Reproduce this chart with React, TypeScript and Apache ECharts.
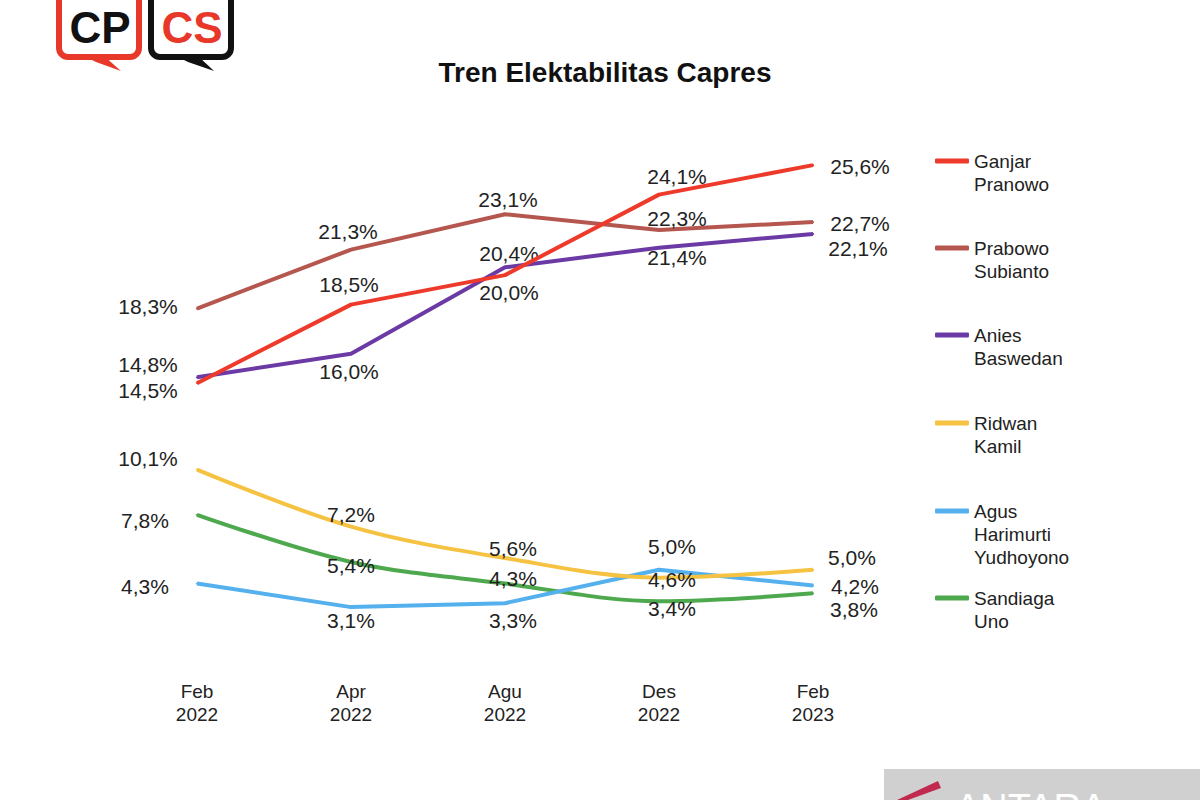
import React, { useEffect, useRef } from "react";
import * as echarts from "echarts";

const categories = ["Feb\n2022", "Apr\n2022", "Agu\n2022", "Des\n2022", "Feb\n2023"];
const seriesNames = ["Ganjar\nPranowo", "Prabowo\nSubianto", "Anies\nBaswedan", "Ridwan\nKamil", "Agus\nHarimurti\nYudhoyono", "Sandiaga\nUno"];
const ganjar = [14.5, 18.5, 20.0, 24.1, 25.6];
const prabowo = [18.3, 21.3, 23.1, 22.3, 22.7];
const anies = [14.8, 16.0, 20.4, 21.4, 22.1];
const ridwan = [10.1, 7.2, 5.6, 4.6, 5.0];
const ahy = [4.3, 3.1, 3.3, 5.0, 4.2];
const sandiaga = [7.8, 5.4, 4.3, 3.4, 3.8];
const seriesValues = [ganjar, prabowo, anies, ridwan, ahy, sandiaga];

const colors = ["#EE3A2B", "#B5574F", "#6C3AA5", "#F5C242", "#55B0EE", "#4EA94E"];
const smoothness = [0, 0, 0, 0.35, 0, 0.35];
const labelOffsets = [
  [[-49, 7], [-2, -20], [4, 17], [18, -18], [47, 1]],
  [[-49, -2], [-3, -18], [3, -15], [18, -11], [47, 1]],
  [[-49, -13], [-2, 18], [4, -14], [18, 10], [45, 15]],
  [[-49, -11], [0, -12], [8, -10], [13, 2], [39, -12]],
  [[-52, 3], [0, 13], [8, 17], [13, -23], [42, 1]],
  [[-52, 6], [0, 4], [8, -5], [13, 7], [41, 16]],
];
const legendCenters = [161, 248, 335, 423, 511, 598];

const FONT = "'Liberation Sans', Arial, sans-serif";

export default function App() {
  const ref = useRef<HTMLDivElement>(null);
  useEffect(() => {
    document.body.style.margin = "0";
    const chart = echarts.init(ref.current!, null, { renderer: "svg" });
    const lineH = 23;
    const legends = seriesNames.map((name, i) => {
      const lines = name.split("\n").length;
      const total = 2 * lines - 1;
      const boxH = total * lineH;
      return {
        show: true,
        orient: "vertical",
        left: 935,
        top: legendCenters[i] - boxH / 2,
        padding: 0,
        itemWidth: 34,
        itemHeight: 5,
        icon: "roundRect",
        data: [name],
        selectedMode: false,
        formatter: (n: string) => " \n".repeat(lines - 1) + n,
        textStyle: {
          color: "#222",
          fontSize: 19,
          fontFamily: FONT,
          lineHeight: lineH,
        },
      };
    });
    chart.setOption({
      animation: false,
      backgroundColor: "#fff",
      title: {
        text: "Tren Elektabilitas Capres",
        left: 600,
        textAlign: "center",
        top: 53,
        textStyle: { fontSize: 28, fontWeight: "bold", color: "#111", fontFamily: FONT },
      },
      legend: legends,
      grid: { left: 197, right: 387, top: 118, bottom: 132 },
      xAxis: {
        type: "category",
        boundaryGap: false,
        data: categories,
        axisLine: { show: false },
        axisTick: { show: false },
        splitLine: { show: false },
        axisLabel: { color: "#222", fontSize: 19, lineHeight: 23, fontFamily: FONT, margin: 12 },
      },
      yAxis: { type: "value", min: 0, max: 28, show: false, splitLine: { show: false } },
      series: seriesValues.map((vals, s) => ({
        name: seriesNames[s],
        type: "line",
        smooth: smoothness[s],
        symbol: "circle",
        symbolSize: 2,
        showSymbol: true,
        color: colors[s],
        lineStyle: { width: 4, color: colors[s] },
        itemStyle: { color: colors[s] },
        label: {
          show: true,
          position: "inside",
          color: "#222",
          fontSize: 21,
          fontFamily: FONT,
          formatter: (p: any) => p.value.toFixed(1).replace(".", ",") + "%",
        },
        data: vals.map((v, i) => ({ value: v, label: { offset: labelOffsets[s][i] } })),
        z: 10 - s,
      })),
      graphic: [
        // CP logo
        { type: "rect", shape: { x: 59, y: -20, width: 80, height: 77, r: 9 }, style: { fill: "#fff", stroke: "#E8382A", lineWidth: 6 } },
        { type: "polygon", shape: { points: [[84, 56], [104, 56], [121, 71], [96, 62]] }, style: { fill: "#E8382A" } },
        { type: "text", style: { text: "CP", x: 100, y: 27, align: "center", verticalAlign: "middle", font: "900 44px 'Liberation Sans Narrow', 'Liberation Sans', Arial", fill: "#111" } },
        // CS logo
        { type: "rect", shape: { x: 151, y: -20, width: 80, height: 77, r: 9 }, style: { fill: "#fff", stroke: "#111", lineWidth: 6 } },
        { type: "polygon", shape: { points: [[176, 56], [198, 56], [214, 71], [188, 62]] }, style: { fill: "#111" } },
        { type: "text", style: { text: "CS", x: 192, y: 27, align: "center", verticalAlign: "middle", font: "900 44px 'Liberation Sans Narrow', 'Liberation Sans', Arial", fill: "#E8382A" } },
        // watermark
        { type: "rect", shape: { x: 884, y: 769, width: 316, height: 31 }, style: { fill: "#d0d0d0" } },
        { type: "polygon", shape: { points: [[897, 800], [938, 781], [941, 788], [908, 800]] }, style: { fill: "#C2294F" } },
        { type: "text", style: { text: "ANTARA", x: 955, y: 808, verticalAlign: "middle", font: "38px 'Liberation Sans', Arial", fill: "#fff" } },
      ],
    });
    return () => chart.dispose();
  }, []);
  return <div ref={ref} style={{ width: 1200, height: 800 }} />;
}
